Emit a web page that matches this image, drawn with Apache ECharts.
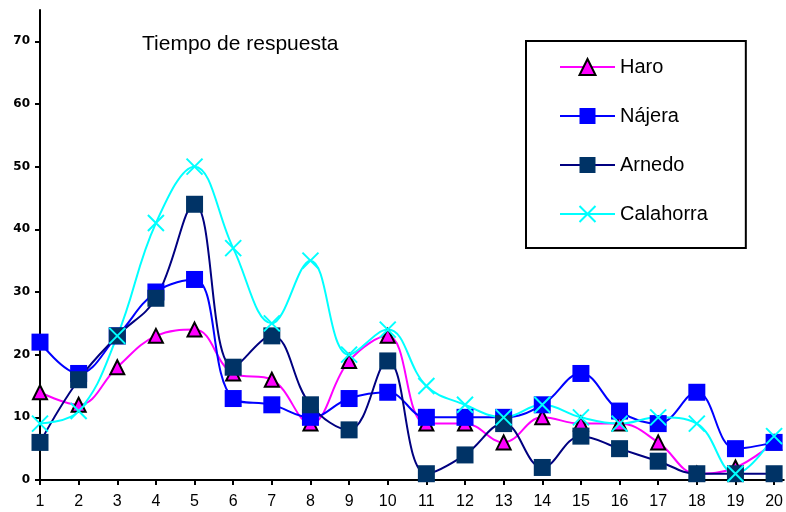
<!DOCTYPE html>
<html>
<head>
<meta charset="utf-8">
<script src="https://cdn.jsdelivr.net/npm/echarts@6/dist/echarts.min.js"></script>
<style>
  html, body { margin: 0; padding: 0; background: #fff; }
  #chart { width: 786px; height: 512px; }
</style>
</head>
<body>
<div id="chart"></div>
<script>
// Day index along the horizontal axis
var categories = [1, 2, 3, 4, 5, 6, 7, 8, 9, 10, 11, 12, 13, 14, 15, 16, 17, 18, 19, 20];
var yTicks = [0, 10, 20, 30, 40, 50, 60, 70];

// Response time per location
var haro      = [14, 12, 18, 23, 24, 17, 16, 9, 19, 23, 9, 9, 6, 10, 9, 9, 6, 1, 2, 6];
var najera    = [22, 17, 23, 30, 32, 13, 12, 10, 13, 14, 10, 10, 10, 12, 17, 11, 9, 14, 5, 6];
var arnedo    = [6, 16, 23, 29, 44, 18, 23, 12, 8, 19, 1, 4, 9, 2, 7, 5, 3, 1, 1, 1];
var calahorra = [9, 11, 23, 41, 50, 37, 25, 35, 20, 24, 15, 12, 10, 12, 10, 9, 10, 9, 1, 7];

function pairs(values) {
  return values.map(function (v, i) { return [categories[i], v]; });
}

var FONT = '"Liberation Sans", Arial, sans-serif';
var CROSS = 'path://M0,0L10,10M10,0L0,10';

function makeSeries(name, values, lineColor, symbol, size, itemStyle) {
  return {
    name: name,
    type: 'line',
    data: pairs(values),
    smooth: 0.4,
    symbol: symbol,
    symbolSize: size,
    showAllSymbol: true,
    lineStyle: { color: lineColor, width: 2 },
    itemStyle: itemStyle,
    emphasis: { disabled: true }
  };
}

var chart = echarts.init(document.getElementById('chart'), null, { renderer: 'canvas' });

chart.setOption({
  animation: false,
  backgroundColor: '#ffffff',
  title: {
    text: 'Tiempo de respuesta',
    left: 142,
    top: 34,
    padding: 0,
    textStyle: { fontFamily: FONT, fontSize: 21, fontWeight: 'normal', color: '#000' }
  },
  legend: {
    orient: 'vertical',
    left: 526,
    top: 41,
    padding: [16, 38, 24, 33],
    itemWidth: 55,
    itemHeight: 20,
    itemGap: 29,
    borderColor: '#000',
    borderWidth: 2,
    textStyle: { fontFamily: FONT, fontSize: 20, color: '#000' },
    data: ['Haro', 'Nájera', 'Arnedo', 'Calahorra']
  },
  grid: { left: 40, right: 0, top: 10, bottom: 32 },
  xAxis: {
    type: 'value',
    min: 1,
    max: 20.25,
    interval: 1,
    splitLine: { show: false },
    axisLine: { lineStyle: { color: '#000', width: 2 } },
    axisTick: { customValues: categories, length: 5, lineStyle: { color: '#000', width: 2 } },
    axisLabel: {
      customValues: categories,
      margin: 14,
      fontFamily: FONT,
      fontSize: 16,
      color: '#000'
    }
  },
  yAxis: {
    type: 'value',
    min: 0,
    max: 75,
    interval: 10,
    splitLine: { show: false },
    axisLine: { show: true, lineStyle: { color: '#000', width: 2 } },
    axisTick: { show: true, customValues: yTicks, length: 5, lineStyle: { color: '#000', width: 2 } },
    axisLabel: {
      customValues: yTicks,
      margin: 10,
      fontFamily: '"DejaVu Sans", sans-serif',
      fontWeight: 'bold',
      fontSize: 12,
      color: '#000'
    }
  },
  series: [
    makeSeries('Haro', haro, '#ff00ff', 'triangle', 14,
      { color: '#ff00ff', borderColor: '#000', borderWidth: 2 }),
    makeSeries('Nájera', najera, '#0000ff', 'rect', 17,
      { color: '#0000ff' }),
    makeSeries('Arnedo', arnedo, '#000080', 'rect', 17,
      { color: '#003366' }),
    makeSeries('Calahorra', calahorra, '#00ffff', CROSS, 16,
      { color: '#00ffff', borderColor: '#00ffff', borderWidth: 2 })
  ]
});
</script>
</body>
</html>
